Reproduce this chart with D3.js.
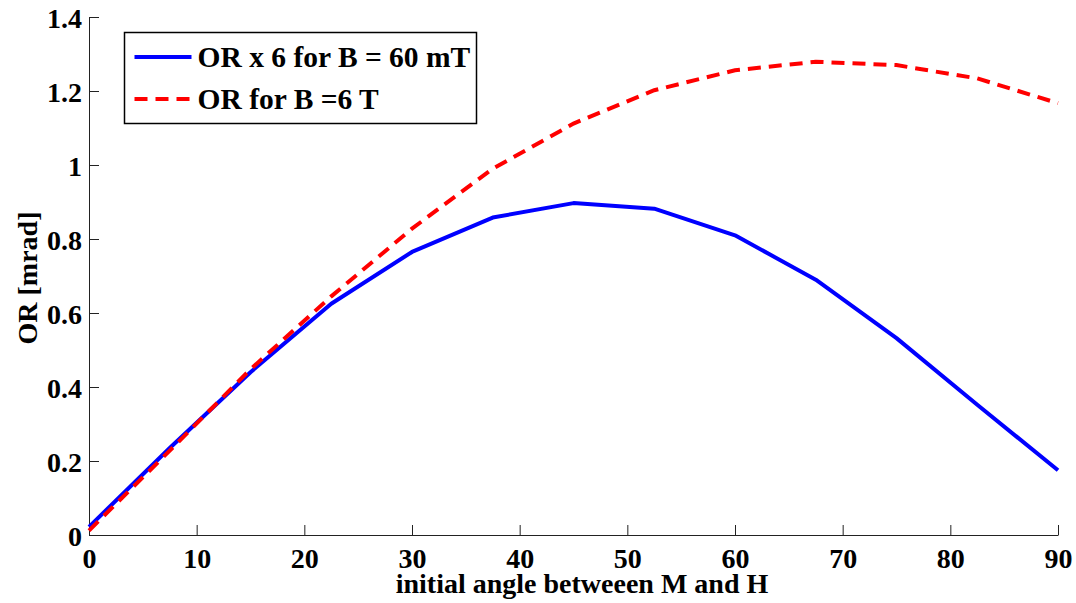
<!DOCTYPE html>
<html>
<head>
<meta charset="utf-8">
<script src="https://cdn.jsdelivr.net/npm/d3@7"></script>
<style>
  html, body { margin: 0; padding: 0; background: #fff; }
  svg { display: block; font-family: "Liberation Serif", "Times New Roman", serif; font-weight: bold; }
  svg text { font-family: "Liberation Serif", "Times New Roman", serif; font-weight: bold; }
</style>
</head>
<body>
<div id="chart"></div>
<script>
// ── Data ───────────────────────────────────────────────────
var angles = [0, 7.5, 15, 22.5, 30, 37.5, 45, 52.5, 60, 67.5, 75, 82.5, 90];
var orLowField = [0.022, 0.235, 0.44, 0.625, 0.765, 0.858, 0.897, 0.882, 0.81, 0.69, 0.532, 0.352, 0.175];
var orHighField = [0.012, 0.228, 0.448, 0.645, 0.828, 0.99, 1.112, 1.202, 1.256, 1.279, 1.27, 1.234, 1.167];
var xTicks = [0, 10, 20, 30, 40, 50, 60, 70, 80, 90];
var yTicks = [0, 0.2, 0.4, 0.6, 0.8, 1, 1.2, 1.4];
var seriesNames = ["OR x 6 for B = 60 mT", "OR for B =6 T"];

var width = 1076, height = 603;
var margin = { top: 17, right: 18, bottom: 68, left: 89 };
var innerWidth = width - margin.left - margin.right;
var innerHeight = height - margin.top - margin.bottom;

var svg = d3.select("#chart").append("svg")
  .attr("width", width)
  .attr("height", height);

var g = svg.append("g")
  .attr("transform", "translate(" + margin.left + "," + margin.top + ")");

var x = d3.scaleLinear().domain([0, 90]).range([0, innerWidth]);
var y = d3.scaleLinear().domain([0, 1.4]).range([innerHeight, 0]);

// ── Axes (MATLAB style: ticks inside, no box) ─────────────
var xAxis = g.append("g")
  .attr("transform", "translate(0," + innerHeight + ")")
  .call(d3.axisBottom(x).tickValues(xTicks).tickSize(-10).tickPadding(18)
    .tickFormat(d3.format("d")));
xAxis.attr("font-family", null).attr("font-size", null);
xAxis.select(".domain").attr("stroke", "#222").attr("d", "M0.5,0.5H" + (innerWidth + 0.5));
xAxis.selectAll(".tick line").attr("stroke", "#222");
xAxis.selectAll("text").attr("fill", "#000").style("font-size", "28px").attr("dy", "0.55em");

var yAxis = g.append("g")
  .call(d3.axisLeft(y).tickValues(yTicks).tickSize(-10).tickPadding(7)
    .tickFormat(function (d) { return d === 0 || d === 1 ? d3.format("d")(d) : d3.format(".1f")(d); }));
yAxis.attr("font-family", null).attr("font-size", null);
yAxis.select(".domain").attr("stroke", "#222").attr("d", "M0.5," + (innerHeight + 0.5) + "V0.5");
yAxis.selectAll(".tick line").attr("stroke", "#222");
yAxis.selectAll("text").attr("fill", "#000").style("font-size", "28px").attr("dy", "0.36em");

// Axis titles
svg.append("text")
  .attr("x", 582)
  .attr("y", 593)
  .attr("text-anchor", "middle")
  .style("font-size", "28px")
  .text("initial angle betweeen M and H");

svg.append("text")
  .attr("transform", "translate(37,278) rotate(-90)")
  .attr("text-anchor", "middle")
  .style("font-size", "28px")
  .text("OR [mrad]");

// ── Lines ─────────────────────────────────────────────────
var line = d3.line()
  .x(function (d) { return x(d[0]); })
  .y(function (d) { return y(d[1]); });

g.append("path")
  .datum(d3.zip(angles, orLowField))
  .attr("fill", "none")
  .attr("stroke", "#0000ff")
  .attr("stroke-width", 4)
  .attr("stroke-linejoin", "round")
  .attr("d", line);

g.append("path")
  .datum(d3.zip(angles, orHighField))
  .attr("fill", "none")
  .attr("stroke", "#ff0000")
  .attr("stroke-width", 4)
  .attr("stroke-dasharray", "13,8")
  .attr("d", line);

// ── Legend ────────────────────────────────────────────────
var legend = svg.append("g").attr("transform", "translate(124.5,32.5)");
legend.append("rect")
  .attr("width", 352)
  .attr("height", 91)
  .attr("fill", "#fff")
  .attr("stroke", "#000")
  .attr("stroke-width", 1.5);

var legendStyles = [
  { color: "#0000ff", dash: null },
  { color: "#ff0000", dash: "13,8" }
];
seriesNames.forEach(function (name, i) {
  var row = legend.append("g").attr("transform", "translate(0," + (24.5 + i * 42) + ")");
  row.append("line")
    .attr("x1", 10).attr("x2", 67)
    .attr("stroke", legendStyles[i].color)
    .attr("stroke-width", 4)
    .attr("stroke-dasharray", legendStyles[i].dash);
  row.append("text")
    .attr("x", 73)
    .attr("y", 10)
    .style("font-size", "29.5px")
    .text(name);
});
</script>
</body>
</html>
